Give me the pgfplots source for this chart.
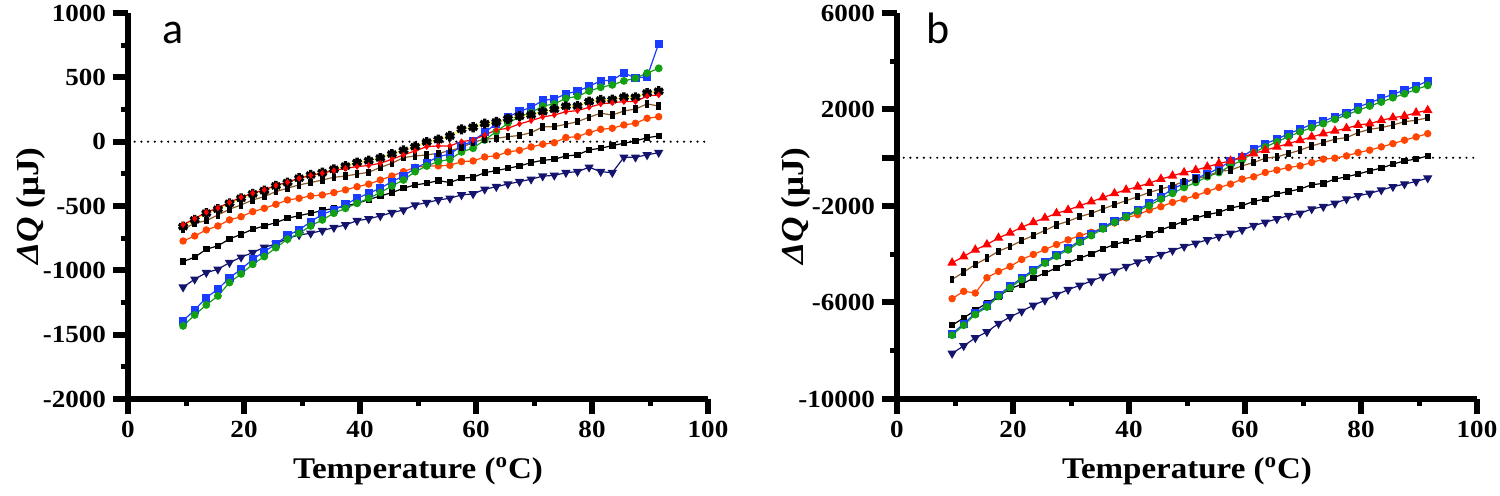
\documentclass[border=0pt]{standalone}
\usepackage{fontspec}
\setmainfont{Liberation Serif}[FakeStretch=1.1]
\newfontfamily\carlito{Carlito}
\usepackage{pgfplots}
\usepackage{pgfplotstable}
\pgfplotsset{compat=1.18}

\definecolor{cblue}{RGB}{25,60,255}
\definecolor{cgreen}{RGB}{20,160,20}
\definecolor{cred}{RGB}{255,0,0}
\definecolor{corange}{RGB}{255,69,0}
\definecolor{cnavy}{RGB}{20,20,110}
\definecolor{cbrown}{RGB}{140,90,40}
\definecolor{cyellow}{RGB}{255,255,90}

\pgfplotstableread{
x navy blk orn blu grn brn star red
9.5 -1131 -932 -772 -1391 -1432 -681 -660 -645
11.5 -1069 -898 -733 -1308 -1347 -634 -608 -598
13.5 -1018 -836 -686 -1212 -1269 -614 -556 -548
15.5 -992 -810 -655 -1147 -1199 -570 -525 -515
17.5 -940 -756 -608 -1057 -1095 -525 -479 -472
19.5 -898 -720 -583 -992 -1028 -492 -440 -432
21.5 -862 -681 -544 -914 -953 -453 -406 -400
23.5 -821 -655 -518 -855 -893 -427 -381 -375
25.5 -795 -629 -487 -795 -824 -388 -344 -340
27.5 -751 -595 -453 -728 -758 -362 -318 -315
29.5 -725 -575 -440 -686 -712 -336 -284 -285
31.5 -712 -556 -422 -622 -655 -318 -259 -262
33.5 -691 -536 -414 -564 -608 -298 -241 -245
35.5 -668 -518 -396 -531 -556 -277 -215 -225
37.5 -647 -500 -375 -487 -518 -267 -190 -207
39.5 -614 -479 -350 -440 -479 -252 -162 -194
41.5 -600 -450 -330 -401 -440 -238 -148 -185
43.5 -577 -422 -298 -362 -396 -200 -127 -168
45.5 -552 -396 -267 -311 -344 -168 -96 -137
47.5 -531 -362 -233 -267 -298 -124 -68 -103
49.5 -492 -336 -199 -207 -233 -111 -39 -72
51.5 -474 -323 -189 -163 -189 -103 -3 -39
53.5 -453 -303 -188 -117 -155 -90 16 -33
55.5 -440 -318 -184 -96 -137 -70 44 -33
57.5 -414 -284 -155 -35 -80 -45 96 0
59.5 -406 -277 -150 8 -51 -5 112 13
61.5 -370 -241 -119 72 13 20 140 52
63.5 -350 -225 -110 139 78 26 153 91
65.5 -329 -207 -80 190 143 39 178 104
67.5 -311 -189 -67 237 194 48 198 138
69.5 -292 -163 -41 266 225 70 207 163
71.5 -268 -145 -20 320 277 115 233 192
73.5 -262 -137 -8 332 293 117 252 207
75.5 -241 -111 32 371 337 135 275 233
77.5 -233 -103 39 393 352 155 277 241
79.5 -199 -64 72 430 393 190 311 267
81.5 -233 -51 96 473 423 221 324 293
83.5 -241 -31 104 477 441 207 326 303
85.5 -121 -12 130 536 472 238 345 311
87.5 -121 5 143 493 493 254 345 311
89.5 -103 31 182 505 533 293 378 355
91.5 -85 44 194 762 570 277 392 363
}\dataA

\pgfplotstableread{
x navy blk orn blu grn brn red
9.5 -8112 -6943 -5841 -7296 -7356 -5043 -4354
11.5 -7797 -6640 -5538 -6883 -6943 -4741 -4093
13.5 -7467 -6323 -5607 -6441 -6501 -4423 -3817
15.5 -7219 -6021 -4974 -6127 -6187 -4163 -3597
17.5 -6873 -5745 -4712 -5685 -5745 -3874 -3321
19.5 -6599 -5427 -4506 -5326 -5386 -3680 -3115
21.5 -6364 -5249 -4217 -4983 -5043 -3432 -2882
23.5 -6117 -4988 -4010 -4652 -4712 -3226 -2676
25.5 -5910 -4782 -3804 -4309 -4369 -3019 -2495
27.5 -5675 -4561 -3597 -4020 -4080 -2784 -2303
29.5 -5469 -4354 -3404 -3757 -3817 -2635 -2165
31.5 -5291 -4163 -3226 -3442 -3502 -2441 -1987
33.5 -5113 -3982 -3090 -3166 -3226 -2305 -1822
35.5 -4919 -3775 -2909 -2890 -2950 -2123 -1650
37.5 -4699 -3597 -2703 -2616 -2676 -1945 -1480
39.5 -4506 -3460 -2495 -2400 -2450 -1780 -1330
41.5 -4328 -3350 -2358 -2165 -2210 -1615 -1202
43.5 -4188 -3184 -2165 -1891 -1987 -1437 -1050
45.5 -4010 -2990 -2028 -1615 -1711 -1297 -884
47.5 -3845 -2813 -1850 -1297 -1477 -1161 -748
49.5 -3680 -2635 -1711 -1066 -1231 -983 -611
51.5 -3543 -2495 -1574 -843 -1024 -884 -512
53.5 -3404 -2358 -1396 -677 -789 -748 -376
55.5 -3267 -2262 -1231 -430 -611 -570 -240
57.5 -3130 -2083 -1090 -157 -335 -512 -128
59.5 -2990 -1987 -884 37 -101 -335 37
61.5 -2813 -1808 -789 355 216 -198 174
63.5 -2676 -1711 -611 586 450 -17 314
65.5 -2536 -1504 -512 768 657 37 450
67.5 -2400 -1396 -405 1000 877 174 586
69.5 -2304 -1297 -335 1181 1070 314 727
71.5 -2123 -1119 -198 1388 1249 491 863
73.5 -2028 -1065 -58 1524 1413 628 1000
75.5 -1891 -884 -17 1689 1593 768 1111
77.5 -1711 -789 78 1867 1772 834 1222
79.5 -1574 -677 216 2102 1966 1041 1359
81.5 -1478 -541 314 2281 2143 1181 1413
83.5 -1338 -430 450 2461 2309 1249 1552
85.5 -1202 -264 586 2627 2487 1359 1660
87.5 -1090 -128 727 2804 2652 1495 1730
89.5 -983 -58 863 2969 2832 1552 1867
91.5 -843 78 1000 3176 2998 1660 1966
}\dataB

\pgfplotsset{
  prism/.style={
    scale only axis, width=290pt, height=193pt,
    axis lines=left,
    axis line style={line width=3pt,-},
    xmin=0, xmax=100,
    xtick={0,20,...,100}, minor x tick num=1,
    tick align=outside,
    major tick length=7.5pt, minor tick length=3.7pt,
    major tick style={black,line width=3pt},
    minor tick style={black,line width=2.5pt},
    tick label style={font=\bfseries\fontsize{12.3}{14}\selectfont},
    /pgf/number format/assume math mode=true,
    /pgf/number format/1000 sep={},
    scaled ticks=false,
    clip=false,
    xlabel={Temperature (\textsuperscript{o}C)},
    xlabel style={font=\bfseries\fontsize{15}{18}\selectfont, at={(axis description cs:0.5,-0.1865)}, anchor=center},
    ylabel={\textit{ΔQ} (μJ)},
    ylabel style={font=\bfseries\fontsize{16}{19}\selectfont, rotate=0, anchor=center},
    every axis plot/.append style={line width=0.6pt},
  },
  zero/.style={black, line width=1.2pt, dash pattern=on 0pt off 3.35pt, line cap=round},
  snavy/.style={cnavy, mark=triangle*, mark size=2.1pt, mark options={rotate=180, fill=cnavy, solid}},
  sblk/.style={black, mark=square*, mark size=1.3pt},
  sorn/.style={corange, mark=*, mark size=1.55pt},
  sblu/.style={cblue, mark=square*, mark size=1.75pt},
  sgrn/.style={cgreen, mark=*, mark size=1.65pt},
  sbrn/.style={cbrown, mark=square*, mark size=1.55pt, mark options={black, fill=black, xscale=0.55}},
  sstar/.style={cyellow, line width=0.8pt, mark=asterisk, mark size=2.5pt, mark options={black, line width=1.7pt}},
  sred/.style={cred, mark=diamond*, mark size=1.2pt},
  sredtri/.style={cred, mark=triangle*, mark size=2.2pt, mark options={fill=cred}},
}

\begin{document}
\begin{tikzpicture}
\useasboundingbox (0,0) rectangle (750pt,248pt);
\begin{axis}[prism, at={(64pt,48.5pt)}, anchor=south west,
  ymin=-2000, ymax=1000, ytick={-2000,-1500,...,1000}, minor y tick num=1,
  ylabel style={at={(axis description cs:-0.167,0.5)}}]
\addplot[zero] coordinates {(0,0) (100,0)};
\addplot[snavy] table[x=x,y=navy]{\dataA};
\addplot[sblk] table[x=x,y=blk]{\dataA};
\addplot[sorn] table[x=x,y=orn]{\dataA};
\addplot[sblu] table[x=x,y=blu]{\dataA};
\addplot[sgrn] table[x=x,y=grn]{\dataA};
\addplot[sbrn] table[x=x,y=brn]{\dataA};
\addplot[sstar] table[x=x,y=star]{\dataA};
\addplot[sred] table[x=x,y=red]{\dataA};
\node[font=\carlito\fontsize{22}{26}\selectfont, anchor=base] at (axis cs:7.7,766) {a};
\end{axis}
\begin{axis}[prism, at={(448.5pt,48.5pt)}, anchor=south west,
  ymin=-10000, ymax=6000, ytick={-10000,-6000,-2000,2000,6000}, minor ytick={-8000,-4000,0,4000},
  extra y ticks={0}, extra y tick labels={},
  ylabel style={at={(axis description cs:-0.174,0.5)}}]
\addplot[zero] coordinates {(0,0) (100,0)};
\addplot[snavy] table[x=x,y=navy]{\dataB};
\addplot[sblk] table[x=x,y=blk]{\dataB};
\addplot[sorn] table[x=x,y=orn]{\dataB};
\addplot[sblu] table[x=x,y=blu]{\dataB};
\addplot[sgrn] table[x=x,y=grn]{\dataB};
\addplot[sbrn] table[x=x,y=brn]{\dataB};
\addplot[sredtri] table[x=x,y=red]{\dataB};
\node[font=\carlito\fontsize{22}{26}\selectfont, anchor=base] at (axis cs:7.0,4719) {b};
\end{axis}
\end{tikzpicture}
\end{document}
